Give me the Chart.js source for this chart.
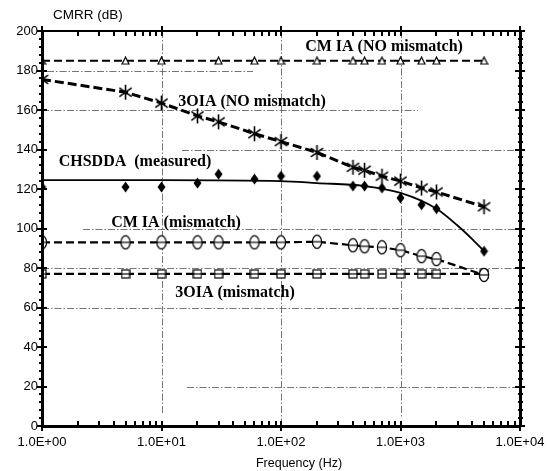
<!DOCTYPE html>
<html><head><meta charset="utf-8">
<script src="https://cdn.jsdelivr.net/npm/chart.js@4"></script>
<style>html,body{margin:0;padding:0;background:#fff}</style>
</head><body>
<canvas id="c" width="550" height="471" style="width:550px;height:471px;display:block"></canvas>
<script>
// ---- data ----
const freqs = [1, 5, 10, 20, 30, 60, 100, 200, 400, 500, 700, 1000, 1500, 2000, 5000];
const cmiaNoMismatch = [185, 185, 185, null, 185, 185, 185, 185, 185, 185, 185, 185, 185, 185, 185];
const oia3NoMismatch = [175.5, 169, 163.5, 157, 154, 148, 144, 138.5, 131, 129.5, 126.5, 124, 120.5, 118.5, 111];
const chsddaMeasured = [121, 121, 121, 123, 127.5, 125, 126.5, 126.5, 121.5, 121.5, 120.5, 115.5, 112, 110, 88.5];
const cmiaMismatch = [93, 93, 93, 93, 93, 93, 93, 93.3, 91.5, 91, 90.5, 89, 86, 84.5, 76.5];
const oia3Mismatch = [77, 77, 77, 77, 77, 77, 77, 77, 77, 77, 77, 77, 77, 77, 77];
const chsddaFitFreqs = [1, 10, 100, 200, 500, 1000, 2000, 3000, 4000, 5000];
const chsddaFit = [124.5, 124.5, 124, 123, 121.5, 118, 110, 101.5, 94.5, 88.5];
const yTicks = [0, 20, 40, 60, 80, 100, 120, 140, 160, 180, 200];
const xDecades = [1, 10, 100, 1000, 10000];
const seriesLabels = ['CM IA (NO mismatch)', '3OIA (NO mismatch)', 'CHSDDA  (measured)', 'CM IA (mismatch)', '3OIA (mismatch)'];

// ---- styling / layout (not data) ----
const labelPos = [ // pixel centers
  [384, 47], [252, 102], [135, 162], [176, 223], [235, 293]
];
const hGrid = [[180, 47, 253], [160, 42, 418], [140, 182, 520], [100, 83, 520], [80, 42, 520], [60, 42, 520], [20, 187, 520]];
const vGrid = [[10, 12], [100, 0], [1000, 8]];

function pts(xs, ys) { return xs.map((x, i) => ({x: x, y: ys[i]})); }

function mk(w, h, draw) {
  const c = document.createElement('canvas'); c.width = w; c.height = h;
  const g = c.getContext('2d'); g.strokeStyle = '#000'; g.fillStyle = '#fff'; g.lineWidth = 1.2;
  draw(g, w, h); return c;
}
const starImg = mk(17, 17, (g) => {
  g.lineWidth = 1.6; g.beginPath();
  const cx = 8.5, cy = 8.5, r = 7.5;
  [90, 35, 145].forEach(a => { const t = a * Math.PI / 180;
    g.moveTo(cx - r * Math.cos(t), cy - r * Math.sin(t)); g.lineTo(cx + r * Math.cos(t), cy + r * Math.sin(t)); });
  g.stroke();
});
const ellImg = mk(12, 16, (g) => {
  g.beginPath(); g.ellipse(6, 8, 4.6, 6.6, 0, 0, Math.PI * 2); g.fill(); g.stroke();
  g.beginPath(); g.moveTo(1.4, 8); g.lineTo(10.6, 8); g.stroke();
});
const sqImg = mk(10, 10, (g) => {
  g.fillRect(1, 1, 8, 8); g.strokeRect(1, 1, 8, 8);
  g.beginPath(); g.moveTo(1, 5); g.lineTo(9, 5); g.stroke();
});
const triImg = mk(9, 9, (g) => {
  g.beginPath(); g.moveTo(4.5, 1); g.lineTo(8, 8); g.lineTo(1, 8); g.closePath(); g.fill(); g.stroke();
});
const diaImg = mk(9, 12, (g) => {
  g.fillStyle = '#000'; g.beginPath(); g.moveTo(4.5, 0.5); g.lineTo(8.5, 6); g.lineTo(4.5, 11.5); g.lineTo(0.5, 6); g.closePath(); g.fill();
});

const sans = "'Liberation Sans', Arial, sans-serif";
const serif = "'Liberation Serif', 'Times New Roman', serif";

function line(ctx, x0, y0, x1, y1) { ctx.beginPath(); ctx.moveTo(x0, y0); ctx.lineTo(x1, y1); ctx.stroke(); }

const decor = {
  id: 'decor',
  beforeDatasetsDraw(chart) {
    const ctx = chart.ctx, a = chart.chartArea, x = chart.scales.x, y = chart.scales.y;
    ctx.save();
    ctx.strokeStyle = '#666'; ctx.lineWidth = 0.9; ctx.setLineDash([7, 2, 1.5, 2]);
    hGrid.forEach(([v, x0, x1]) => { const py = Math.round(y.getPixelForValue(v)) + 0.5; line(ctx, x0, py, Math.min(x1, a.right), py); });
    vGrid.forEach(([v, botOff]) => { const px = Math.round(x.getPixelForValue(v)) + 0.5; line(ctx, px, a.top, px, a.bottom - botOff); });
    ctx.restore();
  },
  afterDraw(chart) {
    const ctx = chart.ctx, a = chart.chartArea, x = chart.scales.x, y = chart.scales.y;
    ctx.save();
    ctx.fillStyle = '#000';
    const L = Math.round(a.left), R = Math.round(a.right), T = Math.round(a.top), B = Math.round(a.bottom);
    ctx.fillRect(L - 1, T - 1, 3, B - T + 2);
    ctx.fillRect(R - 1, T - 1, 3, B - T + 2);
    ctx.fillRect(L - 1, T - 1, R - L + 2, 2);
    ctx.fillRect(L - 1, B - 1, R - L + 2, 3);
    for (let d = 1; d < 10000; d *= 10) {
      for (let m = 1; m <= 10; m++) {
        const px = Math.round(x.getPixelForValue(d * m));
        const major = (m === 1 || m === 10);
        if (major) {
          ctx.fillRect(px - 1, B - 5, 2, 10);
          ctx.fillRect(px - 1, T - 5, 2, 10);
        } else {
          ctx.fillRect(px - 1, B - 5, 2, 5);
          ctx.fillRect(px - 1, T, 2, 5);
        }
      }
    }
    for (let v = 0; v <= 200; v += 4) {
      const py = Math.round(y.getPixelForValue(v)); const major = v % 20 === 0;
      if (major) {
        ctx.fillRect(L - 5, py - 1, 10, 2);
        ctx.fillRect(R - 5, py - 1, 10, 2);
      } else {
        ctx.fillRect(L - 3, py - 1, 5, 2);
        ctx.fillRect(R - 2, py - 1, 5, 2);
      }
    }
    ctx.font = '13.5px ' + sans; ctx.textAlign = 'left'; ctx.textBaseline = 'middle';
    ctx.fillText('CMRR (dB)', 53, 15);
    ctx.textAlign = 'center';
    ctx.font = '12.5px ' + sans;
    ctx.fillText('Frequency (Hz)', 299, 464);
    ctx.font = 'bold 16px ' + serif;
    seriesLabels.forEach((t, i) => ctx.fillText(t, labelPos[i][0], labelPos[i][1]));
    ctx.restore();
  }
};

const dashed = {borderColor: '#000', borderDash: [8, 4], borderWidth: 2.2, spanGaps: true, showLine: true, fill: false, tension: 0};

new Chart(document.getElementById('c'), {
  type: 'scatter',
  data: {
    datasets: [
      Object.assign({}, dashed, {label: seriesLabels[0], data: pts(freqs, cmiaNoMismatch), pointStyle: triImg, borderWidth: 2}),
      Object.assign({}, dashed, {label: seriesLabels[1], data: pts(freqs, oia3NoMismatch), pointStyle: starImg, borderWidth: 3, borderDash: [9, 4]}),
      {label: 'fit', data: pts(chsddaFitFreqs, chsddaFit), showLine: true, borderColor: '#000', borderWidth: 1.8, pointRadius: 0, cubicInterpolationMode: 'monotone', fill: false},
      {label: seriesLabels[2], data: pts(freqs, chsddaMeasured), showLine: false, pointStyle: diaImg},
      Object.assign({}, dashed, {label: seriesLabels[3], data: pts(freqs, cmiaMismatch), pointStyle: ellImg}),
      Object.assign({}, dashed, {label: seriesLabels[4], data: pts(freqs, oia3Mismatch), pointStyle: sqImg})
    ]
  },
  options: {
    responsive: false, animation: false, devicePixelRatio: 1,
    layout: {padding: {top: 31, right: 30, left: 0, bottom: 0}},
    plugins: {legend: {display: false}, tooltip: {enabled: false}},
    scales: {
      x: {
        type: 'logarithmic', min: 1, max: 10000,
        grid: {display: false, drawTicks: false, tickLength: 0}, border: {display: false},
        afterBuildTicks: (s) => { s.ticks = xDecades.map(v => ({value: v})); },
        afterFit: (s) => { s.height = 45; s.paddingLeft = 0; s.paddingRight = 0; },
        ticks: {
          autoSkip: false, maxRotation: 0, padding: 9, color: '#000',
          font: {family: sans, size: 13},
          callback: (v) => '1.0E+' + String(Math.round(Math.log10(v))).padStart(2, '0')
        }
      },
      y: {
        min: 0, max: 200,
        grid: {display: false, drawTicks: false, tickLength: 0}, border: {display: false},
        afterBuildTicks: (s) => { s.ticks = yTicks.map(v => ({value: v})); },
        afterFit: (s) => { s.width = 42; s.paddingTop = 0; s.paddingBottom = 0; },
        ticks: {padding: 4, color: '#000', font: {family: sans, size: 13}}
      }
    }
  },
  plugins: [decor]
});
</script>
</body></html>
